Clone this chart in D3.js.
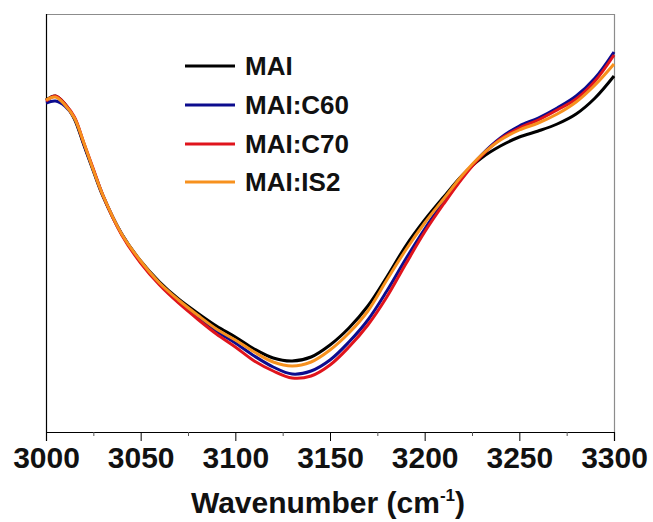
<!DOCTYPE html>
<html>
<head>
<meta charset="utf-8">
<script src="https://cdn.jsdelivr.net/npm/d3@7"></script>
<style>
  body { margin: 0; background: #fff; }
  svg { display: block; font-family: "Liberation Sans", Arial, sans-serif; }
</style>
</head>
<body>
<svg id="chart"></svg>
<script>
// data (transmittance, arbitrary units)
const wavenumber = [3000, 3005, 3010, 3015, 3020, 3025, 3030, 3040, 3050, 3060, 3070, 3080, 3090, 3100,
  3110, 3120, 3130, 3140, 3150, 3160, 3170, 3180, 3190, 3200, 3210, 3220, 3230, 3240, 3250, 3260,
  3270, 3280, 3290, 3300];

const mai = [332, 336, 328, 313, 287, 261, 236, 198, 171, 150, 133, 119, 106, 95,
  83, 74, 71, 75, 87, 104, 126, 155, 186, 212, 235, 257, 274, 286, 295, 301,
  308, 318, 334, 356];
const maiC60 = [329, 331, 326, 314, 288, 262, 237, 198, 170, 148, 130, 116, 101, 89,
  76, 65, 58, 61, 72, 90, 112, 141, 173, 203, 230, 255, 277, 294, 306, 314,
  324, 336, 354, 380];
const maiC70 = [331, 336, 328, 315, 289, 263, 237, 197, 169, 147, 129, 113, 98, 85,
  71, 61, 54, 56, 67, 85, 107, 135, 168, 200, 228, 254, 276, 293, 304, 312,
  322, 333, 351, 377];
const maiIS2 = [332, 335, 327, 314, 289, 262, 237, 198, 171, 149, 132, 117, 103, 92,
  80, 70, 66, 70, 82, 99, 121, 152, 182, 209, 233, 257, 277, 292, 302, 309,
  318, 330, 347, 368];

const seriesNames = ["MAI", "MAI:C60", "MAI:C70", "MAI:IS2"];
const seriesColors = ["#000000", "#0c0c8e", "#e0141c", "#f7911e"];
const seriesValues = [mai, maiC60, maiC70, maiIS2];

const xTicks = [3000, 3050, 3100, 3150, 3200, 3250, 3300];
const xMinorTicks = [3025, 3075, 3125, 3175, 3225, 3275];

const width = 653;
const height = 522;
const margin = { top: 14, right: 39, bottom: 90, left: 46 };

let svg = d3.select("#chart").attr("width", width).attr("height", height);

let xScale = d3.scaleLinear()
  .domain([3000, 3300])
  .range([margin.left, width - margin.right]);

let yScale = d3.scaleLinear()
  .domain([0, 418])
  .range([height - margin.bottom, margin.top]);

// frame: top and right in grey
svg.append("line")
  .attr("x1", margin.left).attr("x2", width - margin.right)
  .attr("y1", margin.top + 0.5).attr("y2", margin.top + 0.5)
  .attr("stroke", "#8c8c8c").attr("stroke-width", 1.2);
svg.append("line")
  .attr("x1", width - margin.right + 0.5).attr("x2", width - margin.right + 0.5)
  .attr("y1", margin.top).attr("y2", height - margin.bottom)
  .attr("stroke", "#8c8c8c").attr("stroke-width", 1.2);

// left axis line (no ticks)
svg.append("line")
  .attr("x1", margin.left + 0.5).attr("x2", margin.left + 0.5)
  .attr("y1", margin.top).attr("y2", height - margin.bottom)
  .attr("stroke", "#000").attr("stroke-width", 1.2);

// curves
let line = d3.line()
  .x((d, i) => xScale(wavenumber[i]))
  .y(d => yScale(d))
  .curve(d3.curveCatmullRom.alpha(0.5));

svg.append("g")
  .selectAll("path")
  .data(seriesValues)
  .enter()
  .append("path")
  .attr("d", d => line(d))
  .attr("fill", "none")
  .attr("stroke", (d, i) => seriesColors[i])
  .attr("stroke-width", 3)
  .attr("stroke-linejoin", "round");

// x axis
let xAxis = d3.axisBottom(xScale)
  .tickValues(xTicks)
  .tickSize(9)
  .tickFormat(d3.format("d"));

let gx = svg.append("g")
  .attr("transform", "translate(0," + (height - margin.bottom) + ")")
  .call(xAxis);
gx.select(".domain").attr("stroke", "#000").attr("stroke-width", 1.2);
gx.selectAll(".tick line").attr("stroke", "#000").attr("stroke-width", 1);
gx.selectAll(".tick text")
  .attr("font-size", 30)
  .attr("font-weight", "bold")
  .attr("fill", "#111")
  .attr("dy", 0)
  .attr("y", 36);

let minor = d3.axisBottom(xScale).tickValues(xMinorTicks).tickSize(4).tickFormat("");
let gm = svg.append("g")
  .attr("transform", "translate(0," + (height - margin.bottom) + ")")
  .call(minor);
gm.select(".domain").remove();
gm.selectAll(".tick line").attr("stroke", "#555");

// axis title
let title = svg.append("text")
  .attr("x", 328)
  .attr("y", 513)
  .attr("text-anchor", "middle")
  .attr("font-size", 30)
  .attr("font-weight", "bold")
  .attr("fill", "#111");
title.append("tspan").text("Wavenumber (cm");
title.append("tspan").text("-1").attr("font-size", 17).attr("dy", -12);
title.append("tspan").text(")").attr("dy", 12);

// legend
let legend = svg.append("g");
let rowsY = [66, 105, 144, 182];
seriesNames.forEach((name, i) => {
  legend.append("line")
    .attr("x1", 185).attr("x2", 235)
    .attr("y1", rowsY[i]).attr("y2", rowsY[i])
    .attr("stroke", seriesColors[i])
    .attr("stroke-width", 3);
  legend.append("text")
    .attr("x", 245)
    .attr("y", rowsY[i] + 9)
    .attr("font-size", 26)
    .attr("font-weight", "bold")
    .attr("fill", "#111")
    .text(name);
});
</script>
</body>
</html>
